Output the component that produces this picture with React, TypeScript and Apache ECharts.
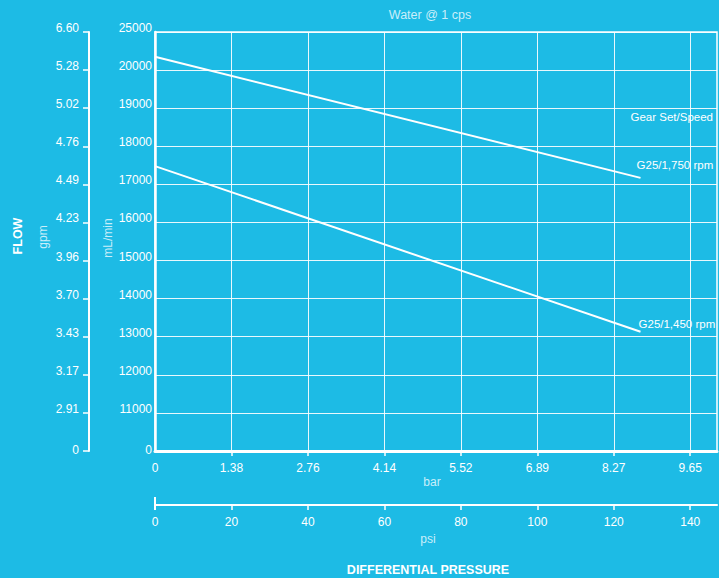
import React, { useEffect, useRef } from "react";
import * as echarts from "echarts";

// Main flow axis (mL/min) – tick labels at equally spaced positions
const flowTickValues = [0, 11000, 12000, 13000, 14000, 15000, 16000, 17000, 18000, 19000, 20000, 25000];
const flowTickLabels = ["0", "11000", "12000", "13000", "14000", "15000", "16000", "17000", "18000", "19000", "20000", "25000"];
// Secondary flow axis (gpm)
const gpmTickLabels = ["0", "2.91", "3.17", "3.43", "3.70", "3.96", "4.23", "4.49", "4.76", "5.02", "5.28", "6.60"];
// Pressure axes
const psiTicks = [0, 20, 40, 60, 80, 100, 120, 140];
const barTickLabels = ["0", "1.38", "2.76", "4.14", "5.52", "6.89", "8.27", "9.65"];
const psiMax = 147;

// Series (pressure in psi, flow in mL/min)
const seriesNames = ["G25/1,750 rpm", "G25/1,450 rpm"];
const pressurePsi = [0, 127];
const flow1750 = [21750, 17170];
const flow1450 = [17480, 13130];

// map a flow value onto the equally spaced tick positions of the axis
function toAxis(v: number): number {
  for (let i = 0; i < flowTickValues.length - 1; i++) {
    const a = flowTickValues[i];
    const b = flowTickValues[i + 1];
    if (v >= a && v <= b) return i + (v - a) / (b - a);
  }
  return flowTickValues.length - 1;
}

const FONT = "'Liberation Sans', Arial, Helvetica, sans-serif";
const LIGHT = "#c9eefa";

export default function App() {
  const ref = useRef<HTMLDivElement>(null);
  useEffect(() => {
    document.body.style.margin = "0";
    if (!ref.current) return;
    const chart = echarts.init(ref.current, null, { renderer: "svg" });
    const gridLine = { show: true, lineStyle: { color: "rgba(255,255,255,0.9)", width: 1 } };
    const yLabelRich = {
      z: { color: "#fff", fontSize: 12, fontFamily: FONT, lineHeight: 2 },
    };
    const mkSeries = (name: string, vals: number[], offset: number[]) => ({
      type: "line",
      name,
      xAxisIndex: 0,
      yAxisIndex: 0,
      data: pressurePsi.map((p, i) => [p, toAxis(vals[i])]),
      symbol: "none",
      lineStyle: { color: "#fff", width: 2 },
      endLabel: {
        show: true,
        formatter: name,
        color: "#fff",
        fontSize: 11.5,
        fontFamily: FONT,
        offset,
      },
    });
    chart.setOption({
      animation: false,
      backgroundColor: "#1dbbe5",
      textStyle: { fontFamily: FONT },
      grid: {
        left: 155,
        top: 32,
        right: 2,
        bottom: 127,
        show: true,
        borderColor: "#fff",
        borderWidth: 1.5,
      },
      xAxis: [
        {
          type: "value",
          min: 0,
          max: psiMax,
          interval: 20,
          position: "bottom",
          axisLine: { show: true, onZero: false, lineStyle: { color: "#fff", width: 3 } },
          axisTick: { show: true, length: 5, customValues: psiTicks.slice(1), lineStyle: { color: "#fff", width: 1.5 } },
          axisLabel: {
            color: "#fff",
            fontSize: 12,
            margin: 11,
            customValues: psiTicks,
            formatter: (v: number) => {
              const i = psiTicks.indexOf(v);
              return i >= 0 ? barTickLabels[i] : "";
            },
          },
          splitLine: gridLine,
        },
        {
          type: "value",
          min: 0,
          max: psiMax,
          interval: 20,
          position: "bottom",
          offset: 54,
          axisLine: { show: true, onZero: false, lineStyle: { color: "#fff", width: 2 } },
          axisTick: { show: true, length: 5, customValues: psiTicks.slice(1), lineStyle: { color: "#fff", width: 1.5 } },
          axisLabel: {
            color: "#fff",
            fontSize: 12,
            margin: 11,
            customValues: psiTicks,
            formatter: (v: number) => (psiTicks.indexOf(v) >= 0 ? String(v) : ""),
          },
          splitLine: { show: false },
        },
      ],
      yAxis: [
        {
          type: "value",
          min: 0,
          max: flowTickLabels.length - 1,
          interval: 1,
          position: "left",
          axisLine: { show: true, onZero: false, lineStyle: { color: "#fff", width: 2.5 } },
          axisTick: { show: false },
          axisLabel: {
            color: "#fff",
            fontSize: 12,
            margin: 3,
            verticalAlign: "bottom",
            lineHeight: 8,
            rich: yLabelRich,
            formatter: (v: number) => (v === 0 ? `{z|${flowTickLabels[0]}}` : flowTickLabels[v] ?? ""),
          },
          splitLine: gridLine,
        },
        {
          type: "value",
          min: 0,
          max: gpmTickLabels.length - 1,
          interval: 1,
          position: "left",
          offset: 66,
          axisLine: { show: true, onZero: false, lineStyle: { color: "#fff", width: 2 } },
          axisTick: { show: true, length: 6, lineStyle: { color: "#fff", width: 1.5 } },
          axisLabel: {
            color: "#fff",
            fontSize: 12,
            margin: 10,
            verticalAlign: "bottom",
            lineHeight: 8,
            rich: yLabelRich,
            formatter: (v: number) => (v === 0 ? `{z|${gpmTickLabels[0]}}` : gpmTickLabels[v] ?? ""),
          },
          splitLine: { show: false },
        },
      ],
      series: [
        mkSeries(seriesNames[0], flow1750, [-12, -13]),
        mkSeries(seriesNames[1], flow1450, [-10, -8]),
      ],
      graphic: [
        { type: "text", x: 430, y: 15, style: { text: "Water @ 1 cps", fill: LIGHT, font: `12.5px ${FONT}`, align: "center", verticalAlign: "middle" } },
        { type: "text", x: 713, y: 117, style: { text: "Gear Set/Speed", fill: "#fff", font: `11.5px ${FONT}`, align: "right", verticalAlign: "middle" } },
        { type: "text", x: 18, y: 236, rotation: Math.PI / 2, style: { text: "FLOW", fill: "#fff", font: `bold 12.5px ${FONT}`, align: "center", verticalAlign: "middle" } },
        { type: "text", x: 43, y: 237, rotation: Math.PI / 2, style: { text: "gpm", fill: LIGHT, font: `12px ${FONT}`, align: "center", verticalAlign: "middle" } },
        { type: "text", x: 108, y: 238, rotation: Math.PI / 2, style: { text: "mL/min", fill: LIGHT, font: `12px ${FONT}`, align: "center", verticalAlign: "middle" } },
        { type: "text", x: 432, y: 482, style: { text: "bar", fill: LIGHT, font: `12px ${FONT}`, align: "center", verticalAlign: "middle" } },
        { type: "text", x: 428, y: 539, style: { text: "psi", fill: LIGHT, font: `12px ${FONT}`, align: "center", verticalAlign: "middle" } },
        { type: "text", x: 428, y: 570, style: { text: "DIFFERENTIAL PRESSURE", fill: "#fff", font: `bold 12.5px ${FONT}`, align: "center", verticalAlign: "middle" } },
        { type: "line", shape: { x1: 155, y1: 497, x2: 155, y2: 510 }, style: { stroke: "#fff", lineWidth: 2 } },
      ],
    });
    return () => chart.dispose();
  }, []);
  return <div ref={ref} style={{ width: 719, height: 578 }} />;
}
